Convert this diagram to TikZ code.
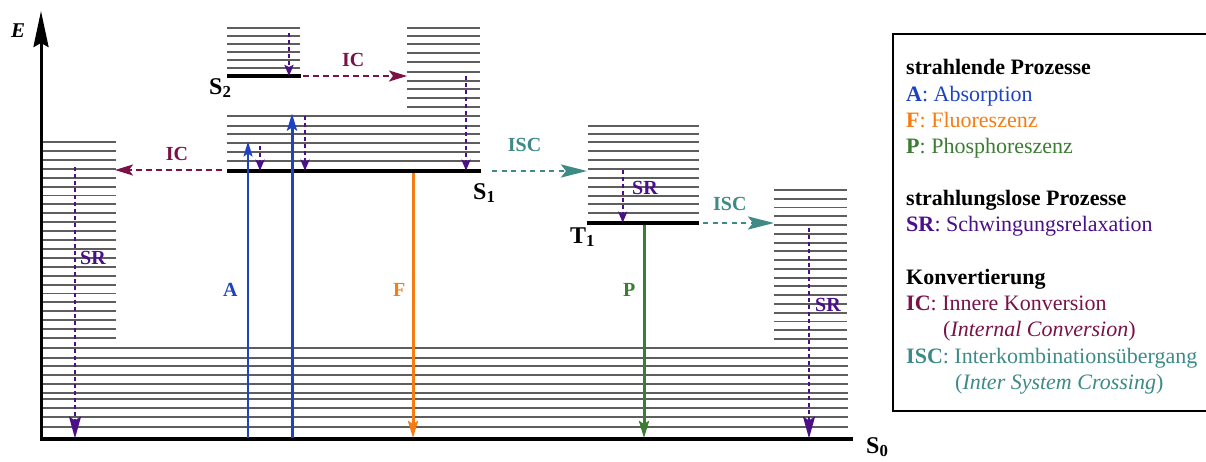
\documentclass[tikz,border=0pt]{standalone}
\usepackage{fontspec}
\setmainfont{Liberation Serif}
\usetikzlibrary{arrows.meta}
\definecolor{cA}{HTML}{1F43C0}
\definecolor{cF}{HTML}{F57C12}
\definecolor{cP}{HTML}{3B7D32}
\definecolor{cSR}{HTML}{4B0F87}
\definecolor{cIC}{HTML}{7A1248}
\definecolor{cISC}{HTML}{3D8A87}
\definecolor{vibgray}{HTML}{5E5E5E}
\begin{document}
\begin{tikzpicture}[x=1pt,y=-1pt,
  vib/.style={draw=vibgray,line width=1.9pt},
  lvl/.style={draw=black,line width=4pt},
  srarrow/.style={draw=cSR,line width=2.3pt,dash pattern=on 4pt off 3pt,-{Stealth[length=11pt,width=9pt,inset=2pt]}},
  srlong/.style={draw=cSR,line width=2.3pt,dash pattern=on 4pt off 3pt,-{Stealth[length=22pt,width=12pt,inset=4pt]}},
  icarrow/.style={draw=cIC,line width=2.2pt,dash pattern=on 6pt off 4pt,-{Stealth[length=18pt,width=11pt,inset=4pt]}},
  iscarrow/.style={draw=cISC,line width=2.6pt,dash pattern=on 5pt off 4.5pt,-{Stealth[length=26pt,width=13pt,inset=5pt]}},
  radarrow/.style={line width=3pt,-{Stealth[length=17pt,width=10pt,inset=3pt]}},
  lab/.style={font=\fontsize{20}{22}\selectfont\bfseries,anchor=base west,inner sep=0pt},
  statelab/.style={font=\fontsize{24}{26}\selectfont\bfseries,anchor=base west,inner sep=0pt},
  leg/.style={font=\fontsize{22}{26}\selectfont,anchor=base west,inner sep=0pt}
]
\useasboundingbox (0,0) rectangle (1206,461);

% ---------- vibrational levels ----------
% left block (below S1 level)
\foreach \i in {0,...,22} \draw[vib] (43,{142+\i*8.909}) -- (116,{142+\i*8.909});
% S0 block
\foreach \y in {347.7,357.7,365.7,374.7,383.7,392.7,399.3,408.3,416.7,426.7} \draw[vib] (41,\y) -- (848,\y);
% S1 block
\foreach \y in {116,125.7,134,142.7,151.7,160.7} \draw[vib] (227,\y) -- (480,\y);
% upper part above S1 (IC target)
\foreach \y in {27.7,35.7,44.3,53.3,62.3,71.7,80.7,89,97.7,106.7} \draw[vib] (407,\y) -- (480,\y);
% S2 block
\foreach \y in {27.7,35.7,43.7,51.7,60,67.7} \draw[vib] (227,\y) -- (300,\y);
% T1 block
\foreach \y in {125.7,133.7,142.3,151,160,169,177.7,186.7,195.7,204.3,213.3} \draw[vib] (588,\y) -- (699,\y);
% right block
\foreach \i in {0,...,17} \draw[vib] (774,{190+\i*8.765}) -- (847,{190+\i*8.765});

% ---------- electronic levels ----------
\draw[lvl] (227,76) -- (301,76);
\draw[lvl] (227,170.7) -- (481,170.7);
\draw[lvl] (587,222.7) -- (699,222.7);
\draw[lvl] (41,438.5) -- (853,438.5);

% ---------- energy axis ----------
\coordinate (ax0) at (41,440.5);
\coordinate (ax1) at (41,11);
\draw[line width=3pt,-{Stealth[length=36pt,width=15pt,inset=4pt]}] (ax0) -- (ax1);
\node[font=\fontsize{21}{23}\selectfont\bfseries\itshape,anchor=base west,inner sep=0pt] (E) at (11,37) {E};

% ---------- state labels ----------
\node[statelab] (S2) at (209,94) {S\textsubscript{2}};
\node[statelab] (S1) at (473,199) {S\textsubscript{1}};
\node[statelab] (T1) at (570,243) {T\textsubscript{1}};
\node[statelab] (S0) at (866,453) {S\textsubscript{0}};

% ---------- coordinates for transitions ----------
\coordinate (aTs) at (248,438);   \coordinate (aTe) at (248,141.5);
\coordinate (aUs) at (292,438);   \coordinate (aUe) at (292,113.5);
\coordinate (fS) at (413,172.5);  \coordinate (fE) at (413,438);
\coordinate (pS) at (644,224.5);  \coordinate (pE) at (644,438);
\coordinate (sr1s) at (289,33);   \coordinate (sr1e) at (289,76);
\coordinate (sr2s) at (260,146);  \coordinate (sr2e) at (260,170.7);
\coordinate (sr3s) at (305,116);  \coordinate (sr3e) at (305,170.7);
\coordinate (sr4s) at (466,76);   \coordinate (sr4e) at (466,170.7);
\coordinate (sr5s) at (622.7,170);\coordinate (sr5e) at (622.7,222.7);
\coordinate (srLs) at (75,167);   \coordinate (srLe) at (75,438.5);
\coordinate (srRs) at (809,228);  \coordinate (srRe) at (809,438.5);
\coordinate (icLs) at (222,170);  \coordinate (icLe) at (115,170);
\coordinate (icTs) at (303,76);   \coordinate (icTe) at (407,76);
\coordinate (is1s) at (492,171);  \coordinate (is1e) at (587,171);
\coordinate (is2s) at (703,223);  \coordinate (is2e) at (774,223);

% ---------- radiative transitions ----------
\draw[radarrow,draw=cA,line width=2pt,-{Stealth[length=15pt,width=9pt,inset=3pt]}] (aTs) -- (aTe);
\draw[radarrow,draw=cA] (aUs) -- (aUe);
\draw[radarrow,draw=cF] (fS) -- (fE);
\draw[radarrow,draw=cP] (pS) -- (pE);

% ---------- vibrational relaxation ----------
\draw[srarrow] (sr1s) -- (sr1e);
\draw[srarrow] (sr2s) -- (sr2e);
\draw[srarrow] (sr3s) -- (sr3e);
\draw[srarrow] (sr4s) -- (sr4e);
\draw[srarrow] (sr5s) -- (sr5e);
\draw[srlong] (srLs) -- (srLe);
\draw[srlong] (srRs) -- (srRe);

% ---------- conversions ----------
\draw[icarrow] (icLs) -- (icLe);
\draw[icarrow] (icTs) -- (icTe);
\draw[iscarrow] (is1s) -- (is1e);
\draw[iscarrow] (is2s) -- (is2e);

% ---------- transition labels ----------
\node[lab,text=cA] (lA) at (223,296.7) {A};
\node[lab,text=cF] (lF) at (393,296.5) {F};
\node[lab,text=cP] (lP) at (623,296.7) {P};
\node[lab,text=cSR] (lSRl) at (80,264.5) {SR};
\node[lab,text=cSR] (lSRt) at (632,194.3) {SR};
\node[lab,text=cSR] (lSRr) at (815,311.7) {SR};
\node[lab,text=cIC] (lICl) at (165.7,160) {IC};
\node[lab,text=cIC] (lICt) at (342,66.7) {IC};
\node[lab,text=cISC] (lISC1) at (507.7,151) {ISC};
\node[lab,text=cISC] (lISC2) at (713,210) {ISC};

% ---------- legend ----------
\draw[line width=1.6pt] (893,34) rectangle (1215,410.7);
\node[leg,font=\fontsize{22}{26}\selectfont\bfseries] (g1) at (906,74.3) {strahlende Prozesse};
\node[leg,text=cA] (g2) at (906,101.7) {\textbf{A}: Absorption};
\node[leg,text=cF] (g3) at (906,127.5) {\textbf{F}: Fluoreszenz};
\node[leg,text=cP] (g4) at (906,153.3) {\textbf{P}: Phosphoreszenz};
\node[leg,font=\fontsize{22}{26}\selectfont\bfseries] (g5) at (906,205.7) {strahlungslose Prozesse};
\node[leg,text=cSR] (g6) at (906,231.5) {\textbf{SR}: Schwingungsrelaxation};
\node[leg,font=\fontsize{22}{26}\selectfont\bfseries] (g7) at (906,284) {Konvertierung};
\node[leg,text=cIC] (g8) at (906,310.5) {\textbf{IC}: Innere Konversion};
\node[leg,text=cIC] (g9) at (943,336.5) {(\textit{Internal Conversion})};
\node[leg,text=cISC] (g10) at (906,363) {\textbf{ISC}: Interkombinationsübergang};
\node[leg,text=cISC] (g11) at (955,389) {(\textit{Inter System Crossing})};
\end{tikzpicture}
\end{document}
